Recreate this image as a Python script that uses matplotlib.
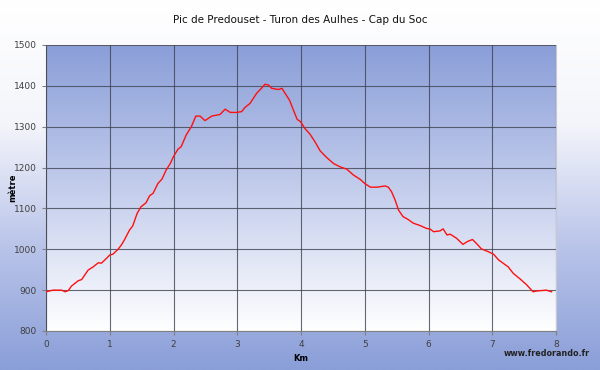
import numpy as np
import matplotlib.pyplot as plt
from matplotlib.colors import LinearSegmentedColormap

# elevation profile
km = [0.0, 0.11, 0.245, 0.30, 0.35, 0.40, 0.505, 0.56, 0.66, 0.74, 0.82, 0.87, 0.95, 1.0,
      1.05, 1.13, 1.18, 1.23, 1.31, 1.36, 1.43, 1.49, 1.57, 1.625, 1.68, 1.755, 1.82, 1.885,
      1.95, 2.0, 2.07, 2.12, 2.2, 2.28, 2.35, 2.416, 2.494, 2.60, 2.73, 2.81, 2.89, 2.99,
      3.07, 3.12, 3.2, 3.305, 3.38, 3.435, 3.49, 3.54, 3.645, 3.70, 3.75, 3.82, 3.88, 3.94,
      3.995, 4.06, 4.14, 4.22, 4.30, 4.40, 4.51, 4.61, 4.72, 4.82, 4.93, 5.0, 5.09, 5.19,
      5.32, 5.37, 5.42, 5.475, 5.53, 5.60, 5.68, 5.76, 5.87, 5.97, 6.02, 6.08, 6.18, 6.23,
      6.29, 6.34, 6.44, 6.54, 6.61, 6.69, 6.76, 6.83, 6.94, 7.02, 7.10, 7.17, 7.25, 7.33,
      7.44, 7.54, 7.64, 7.70, 7.85, 7.93]
alt = [896, 900, 900, 896, 899, 910, 923, 926, 949, 957, 967, 966, 978, 986,
       988, 1000, 1010, 1023, 1047, 1057, 1088, 1104, 1114, 1131, 1137, 1161, 1172, 1194,
       1210, 1227, 1245, 1251, 1280, 1300, 1326, 1326, 1315, 1326, 1330, 1343, 1335, 1335,
       1337, 1347, 1357, 1382, 1394, 1404, 1402, 1394, 1391, 1394, 1382, 1365, 1341, 1318,
       1312, 1296, 1282, 1263, 1241, 1225, 1210, 1202, 1196, 1182, 1171, 1161, 1152, 1152,
       1155, 1152, 1141, 1121, 1096, 1080, 1073, 1064, 1058, 1051, 1050, 1043, 1045, 1050,
       1035, 1037, 1027, 1012, 1019, 1024, 1013, 1001, 994, 988, 974, 966, 957, 941,
       927, 913, 896, 898, 900, 896]

x_ticks = list(range(0, 9))
y_ticks = list(range(800, 1501, 100))

BLUE = '#8a9ed8'

fig = plt.figure(figsize=(6, 3.7), dpi=100)

# background gradient, white at top to blue at bottom
bg = fig.add_axes([0, 0, 1, 1], zorder=-2)
bg_cmap = LinearSegmentedColormap.from_list('bg', ['#ffffff', '#f4f5fb', '#b9c4e9', BLUE],
                                            N=256)
grad = np.linspace(0, 1, 256).reshape(-1, 1)
bg.imshow(grad, aspect='auto', cmap=bg_cmap, extent=[0, 1, 0, 1], origin='upper')
bg.axis('off')

ax = fig.add_axes([46 / 600, 1 - 331 / 370, 510 / 600, 286 / 370])
ax.set_xlim(0, 8)
ax.set_ylim(800, 1500)

# plot area gradient, blue at top to white at bottom
pa_cmap = LinearSegmentedColormap.from_list('pa', [BLUE, '#c3cdec', '#ffffff'], N=256)
ax.imshow(grad, aspect='auto', cmap=pa_cmap, extent=[0, 8, 800, 1500], origin='upper',
          zorder=0)

ax.set_xticks(x_ticks)
ax.set_yticks(y_ticks)
ax.grid(True, color='#3e4352', linewidth=0.8, alpha=0.8, zorder=1)
ax.set_axisbelow(False)

ax.plot(km, alt, color='#ff1010', linewidth=1.0, zorder=3)

for side in ['top', 'right']:
    ax.spines[side].set_color('#c8c8d0')
for side in ['left', 'bottom']:
    ax.spines[side].set_color('#808080')
ax.tick_params(labelsize=6.5, colors='#808080', labelcolor='#404040', length=3, width=0.8)

ax.set_xlabel('Km', fontsize=6, fontweight='bold')
ax.xaxis.set_label_coords(0.5, -0.08)
ax.set_ylabel('mètre', fontsize=6, fontweight='bold')
ax.yaxis.set_label_coords(-0.056, 0.5)

fig.text(0.5, 0.945, 'Pic de Predouset - Turon des Aulhes - Cap du Soc', ha='center',
         va='center', fontsize=7.5, color='#111111')
fig.text(590 / 600, 0.045, 'www.fredorando.fr', ha='right', va='center', fontsize=5.8,
         fontweight='bold', color='#222222')

plt.savefig('out.png', dpi=100)
